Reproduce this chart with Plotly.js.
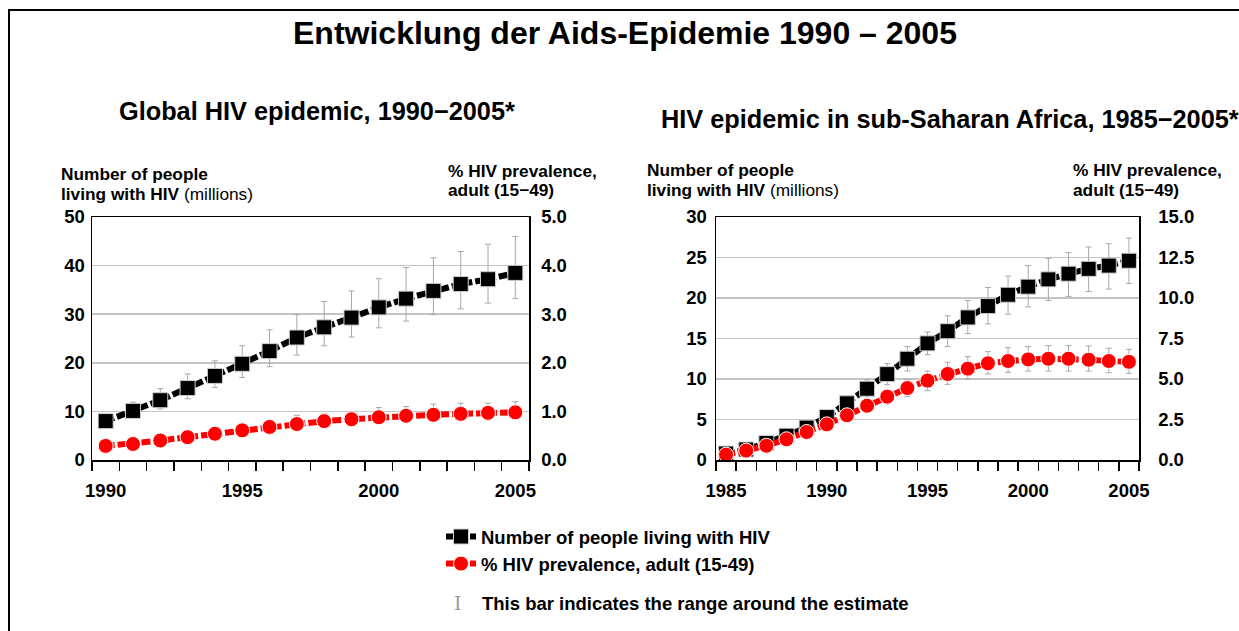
<!DOCTYPE html>
<html>
<head>
<meta charset="utf-8">
<script src="https://cdn.plot.ly/plotly-3.0.1.min.js"></script>
<style>html,body{margin:0;padding:0;background:#fff;}#chart{width:1239px;height:631px;}</style>
</head>
<body>
<div id="chart"></div>
<script>
// ---- Data: Global HIV epidemic 1990-2005 ----
const globalYears = [1990,1991,1992,1993,1994,1995,1996,1997,1998,1999,2000,2001,2002,2003,2004,2005];
const globalPeople = [8.0,10.1,12.3,14.8,17.3,19.8,22.4,25.2,27.3,29.3,31.4,33.2,34.8,36.2,37.2,38.5];
const globalPeopleHigh = [9.4,11.9,14.7,17.7,20.4,23.5,26.8,29.9,32.6,34.8,37.3,39.6,41.6,42.9,44.4,46.0];
const globalPeopleLow = [6.9,8.6,10.5,12.6,14.9,17.0,19.2,21.6,23.5,25.3,27.2,28.6,29.9,31.1,32.3,33.2];
const globalPrev = [0.29,0.33,0.40,0.47,0.54,0.61,0.68,0.74,0.80,0.84,0.88,0.91,0.93,0.95,0.97,0.98];
const globalPrevHigh = [0.33,0.38,0.45,0.53,0.61,0.69,0.82,0.92,0.96,1.00,1.08,1.10,1.15,1.17,1.17,1.20];
const globalPrevLow = [0.25,0.29,0.35,0.41,0.47,0.53,0.58,0.63,0.67,0.70,0.75,0.78,0.80,0.82,0.82,0.84];

// ---- Data: sub-Saharan Africa 1985-2005 ----
const ssaYears = [1985,1986,1987,1988,1989,1990,1991,1992,1993,1994,1995,1996,1997,1998,1999,2000,2001,2002,2003,2004,2005];
const ssaPeople = [0.8,1.3,2.1,3.0,4.0,5.3,7.0,8.8,10.6,12.5,14.4,15.9,17.6,19.0,20.4,21.4,22.3,23.0,23.6,24.0,24.6];
const ssaPeopleHigh = [0.9,1.5,2.4,3.4,4.6,6.0,7.9,9.9,11.9,14.0,15.8,17.8,19.7,21.3,22.7,24.0,24.9,25.6,26.3,26.7,27.4];
const ssaPeopleLow = [0.7,1.1,1.8,2.6,3.5,4.6,6.2,7.6,9.3,11.0,13.0,14.0,15.6,16.8,18.0,18.9,19.7,20.2,20.8,21.1,21.8];
const ssaPrev = [0.33,0.58,0.88,1.28,1.73,2.20,2.76,3.35,3.91,4.44,4.90,5.31,5.64,5.97,6.11,6.21,6.25,6.25,6.19,6.11,6.06];
const ssaPrevHigh = [0.40,0.68,1.00,1.45,1.95,2.50,3.10,3.75,4.36,4.98,5.49,6.03,6.38,6.69,6.93,7.00,7.06,7.06,7.04,6.90,6.83];
const ssaPrevLow = [0.27,0.49,0.76,1.10,1.50,1.90,2.40,2.96,3.46,3.91,4.28,4.67,5.00,5.31,5.41,5.49,5.49,5.49,5.49,5.39,5.35];

// ---- Labels ----
const mainTitle = "Entwicklung der Aids-Epidemie 1990 – 2005";
const leftTitle = "Global HIV epidemic, 1990−2005*";
const rightTitle = "HIV epidemic in sub-Saharan Africa, 1985−2005*";
const peopleName = "Number of people living with HIV";
const prevName = "% HIV prevalence, adult (15-49)";
const rangeNote = "This bar indicates the range around the estimate";
const leftXLabels = [1990,1995,2000,2005];
const rightXLabels = [1985,1990,1995,2000,2005];

const W = 1239, H = 631;
const FONT = "Liberation Sans, Arial, Helvetica, sans-serif";
const px = v => v / W;
const py = v => 1 - v / H;

function diff(a, b) { return a.map((v, i) => +(v - b[i]).toFixed(3)); }

const blackLine = {color:'#000000', width:6, dash:'9px,3px'};
const redLine = {color:'#ff0000', width:6, dash:'9px,3px'};
const squareMarker = {symbol:'square', size:15, color:'#000000', line:{color:'#cfcfcf', width:1}};
const circleMarker = {symbol:'circle', size:15, color:'#ff0000', line:{color:'#ffffff', width:1}};
function err(val, hi, lo) {
  return {type:'data', symmetric:false, array:diff(hi, val), arrayminus:diff(val, lo),
          color:'#a8a8a8', thickness:1, width:3};
}

const traces = [
  {x:globalYears, y:globalPeople, xaxis:'x', yaxis:'y', type:'scatter', mode:'lines+markers',
   name:peopleName, legendgroup:'a', line:blackLine, marker:squareMarker,
   error_y:err(globalPeople, globalPeopleHigh, globalPeopleLow)},
  {x:globalYears, y:globalPrev, xaxis:'x', yaxis:'y2', type:'scatter', mode:'lines+markers',
   name:prevName, legendgroup:'b', line:redLine, marker:circleMarker,
   error_y:err(globalPrev, globalPrevHigh, globalPrevLow)},
  {x:ssaYears, y:ssaPeople, xaxis:'x2', yaxis:'y3', type:'scatter', mode:'lines+markers',
   name:peopleName, showlegend:false, line:blackLine, marker:squareMarker,
   error_y:err(ssaPeople, ssaPeopleHigh, ssaPeopleLow)},
  {x:ssaYears, y:ssaPrev, xaxis:'x2', yaxis:'y4', type:'scatter', mode:'lines+markers',
   name:prevName, showlegend:false, line:redLine, marker:circleMarker,
   error_y:err(ssaPrev, ssaPrevHigh, ssaPrevLow)}
];

const tickFont = {family:FONT, size:18.5, color:'#000', weight:700};
function xAxis(domain, years, labels, anchor) {
  return {domain:domain, anchor:anchor, range:[years[0]-0.5, years[years.length-1]+0.5],
    tickmode:'array', tickvals:labels, ticktext:labels.map(String), ticks:'', ticklabelstandoff:13,
    minor:{ticks:'outside', tickmode:'linear', tick0:years[0]-0.5, dtick:1, ticklen:9, tickwidth:1.5, tickcolor:'#000', showgrid:false},
    showline:true, mirror:true, linecolor:'#000', linewidth:1.5, showgrid:false, zeroline:false,
    tickfont:tickFont, fixedrange:true};
}
function yLeft(domain, anchor, max, dtick, standoff) {
  return {domain:domain, anchor:anchor, range:[0,max], dtick:dtick, tick0:0, ticks:'', ticklabelstandoff:standoff,
    showgrid:true, gridcolor:'#c4c4c4', gridwidth:1.5, showline:true, linecolor:'#000', linewidth:1.5,
    zeroline:false, tickfont:tickFont, fixedrange:true};
}
function yRight(over, anchor, max, dtick, standoff) {
  return {overlaying:over, anchor:anchor, side:'right', range:[0,max], dtick:dtick, tick0:0, tickformat:'.1f',
    ticks:'', ticklabelstandoff:standoff, showgrid:false, showline:true, linecolor:'#000', linewidth:1.5,
    zeroline:false, tickfont:tickFont, fixedrange:true};
}

const yDom = [py(460), py(217)];

function ann(text, x, y, size, opts) {
  return Object.assign({text:text, x:x, y:y, xref:'paper', yref:'paper', showarrow:false,
    xanchor:'left', yanchor:'middle', font:{family:FONT, size:size, color:'#000'}}, opts || {});
}

const annotations = [
  ann('<b>' + mainTitle + '</b>', px(625), py(33), 32, {xanchor:'center'}),
  ann('<b>' + leftTitle + '</b>', px(117), py(111), 25.3),
  ann('<b>' + rightTitle + '</b>', px(659), py(119), 25.3),
  ann('<b>Number of people</b>', px(59), py(174), 17.3),
  ann('<b>living with HIV</b> (millions)', px(59), py(194), 17.3),
  ann('<b>% HIV prevalence,</b>', px(446), py(171), 17.3),
  ann('<b>adult (15−49)</b>', px(446), py(190), 17.3),
  ann('<b>Number of people</b>', px(645), py(170), 17.3),
  ann('<b>living with HIV</b> (millions)', px(645), py(190), 17.3),
  ann('<b>% HIV prevalence,</b>', px(1071), py(170), 17.3),
  ann('<b>adult (15−49)</b>', px(1071), py(190), 17.3),
  ann('I', px(458), py(603), 20, {xanchor:'center', font:{family:'DejaVu Serif, serif', size:19, color:'#999999'}}),
  ann('<b>' + rangeNote + '</b>', px(480), py(603), 18.5)
];

const layout = {
  width:W, height:H, autosize:false,
  margin:{l:0, r:0, t:0, b:0, pad:0},
  paper_bgcolor:'#ffffff', plot_bgcolor:'rgba(0,0,0,0)',
  font:{family:FONT, color:'#000'},
  xaxis: xAxis([px(92), px(529)], globalYears, leftXLabels, 'y'),
  yaxis: yLeft(yDom, 'x', 50, 10, 2),
  yaxis2: yRight('y', 'x', 5, 1, 7),
  xaxis2: xAxis([px(716), px(1139)], ssaYears, rightXLabels, 'y3'),
  yaxis3: yLeft(yDom, 'x2', 30, 5, 4),
  yaxis4: yRight('y3', 'x2', 15, 2.5, 14),
  showlegend:true,
  legend:{x:px(441), xanchor:'left', y:py(518), yanchor:'top', traceorder:'grouped', tracegroupgap:0,
    font:{family:FONT, size:18.5, color:'#000', weight:700}, bgcolor:'rgba(0,0,0,0)', borderwidth:0, itemwidth:30},
  annotations:annotations,
  shapes:[
    {type:'line', xref:'paper', yref:'paper', x0:px(8), x1:1, y0:py(10), y1:py(10), line:{color:'#000', width:2}},
    {type:'line', xref:'paper', yref:'paper', x0:px(9), x1:px(9), y0:0, y1:py(9), line:{color:'#000', width:2}}
  ]
};

Plotly.newPlot('chart', traces, layout, {staticPlot:true, displayModeBar:false});
</script>
</body>
</html>
